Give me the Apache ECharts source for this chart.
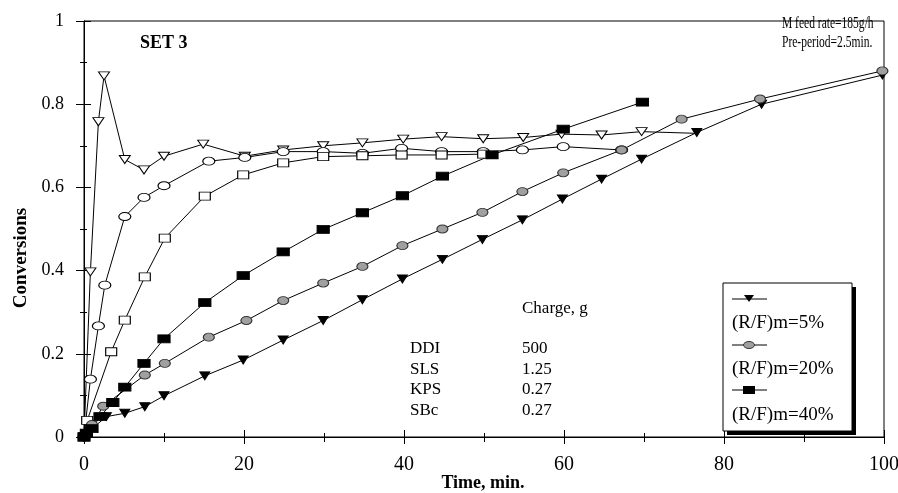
<!DOCTYPE html>
<html><head><meta charset="utf-8">
<script src="https://cdn.jsdelivr.net/npm/echarts@6/dist/echarts.min.js"></script>
<style>html,body{margin:0;padding:0;background:#fff}#c{width:898px;height:493px}</style>
</head><body><div id="c"></div>
<script>
// ---- data (time in min, conversion) ----
const openTriX = [0,0.8,1.8,2.5,5.1,7.5,10,14.9,20.1,24.9,29.9,34.8,39.9,44.7,49.9,54.9,59.7,64.7,69.7,76.5];
const openTriY = [0,0.397,0.758,0.868,0.667,0.642,0.675,0.704,0.675,0.69,0.70,0.707,0.716,0.722,0.717,0.72,0.728,0.726,0.734,0.73];
const openCircX = [0,0.8,1.8,2.6,5.1,7.5,10,15.6,20.1,24.9,29.9,34.8,39.7,44.7,49.9,54.8,59.9,67.2];
const openCircY = [0,0.139,0.267,0.365,0.53,0.576,0.604,0.663,0.672,0.686,0.686,0.682,0.694,0.686,0.686,0.69,0.698,0.69];
const openSqX = [0,0.4,3.4,5.1,7.6,10.1,15.1,19.9,24.9,29.9,34.8,39.7,44.7,49.9];
const openSqY = [0,0.04,0.205,0.281,0.385,0.478,0.579,0.63,0.659,0.674,0.676,0.678,0.678,0.68];
const rf5X = [0,1,2.8,5.1,7.6,10,15.1,19.9,24.9,29.9,34.8,39.8,44.8,49.8,54.8,59.8,64.7,69.7,76.6,84.7,99.8];
const rf5Y = [0,0.02,0.049,0.057,0.073,0.099,0.147,0.185,0.233,0.28,0.33,0.38,0.427,0.475,0.522,0.572,0.62,0.668,0.732,0.80,0.87];
const rf20X = [0,1,2.4,7.6,10.1,15.6,20.3,24.9,29.9,34.8,39.8,44.8,49.8,54.8,59.9,67.2,74.7,84.5,99.8];
const rf20Y = [0,0.03,0.074,0.149,0.177,0.24,0.28,0.328,0.37,0.41,0.46,0.50,0.54,0.59,0.635,0.69,0.764,0.8125,0.88];
const rf40X = [0,0.3,1,2,3.6,5.1,7.5,10,15.1,19.9,24.9,29.9,34.8,39.8,44.8,51,59.9,69.8];
const rf40Y = [0,0.009,0.02,0.049,0.083,0.12,0.177,0.236,0.323,0.388,0.445,0.499,0.539,0.58,0.627,0.678,0.74,0.805];
const legendNames = ['(R/F)m=5%','(R/F)m=20%','(R/F)m=40%'];
const chargeNames = ['DDI','SLS','KPS','SBc'];
const chargeValues = ['500','1.25','0.27','0.27'];

const zip = (xs, ys) => xs.map((x, i) => [x, ys[i]]);
const FONT = '"Liberation Serif","Times New Roman",serif';
const TRI = 'path://M0,0 L10,0 L5,8 Z';

function ser(name, xs, ys, symbol, size, fill, border) {
  return {
    name, type: 'line', data: zip(xs, ys), symbol, symbolSize: size,
    showSymbol: true, animation: false, z: 3,
    lineStyle: { color: '#000', width: 1 },
    itemStyle: { color: fill, borderColor: border, borderWidth: 1 }
  };
}
const s1 = ser('open tri', openTriX, openTriY, TRI, [11, 8], '#fff', '#000');
s1.data[s1.data.length - 1] = { value: s1.data[s1.data.length - 1], symbol: 'none' };

const series = [
  s1,
  ser('open circ', openCircX, openCircY, 'circle', [12, 8], '#fff', '#000'),
  ser('open sq', openSqX, openSqY, 'rect', [11, 8], '#fff', '#000'),
  ser(legendNames[0], rf5X, rf5Y, TRI, [10, 8], '#000', '#000'),
  ser(legendNames[1], rf20X, rf20Y, 'circle', [11, 8], '#a0a0a0', '#333'),
  ser(legendNames[2], rf40X, rf40Y, 'rect', [12, 8], '#000', '#000')
];

const axisCommon = {
  type: 'value', min: 0,
  axisLine: { lineStyle: { color: '#000', width: 1 } },
  splitLine: { show: false }
};
const chart = echarts.init(document.getElementById('c'), null, { renderer: 'canvas' });

const lx = 732, lw = 35;
const graphic = [
  { type: 'rect', shape: { x: 727, y: 287, width: 129, height: 148 }, style: { fill: '#000' }, z: 10 },
  { type: 'rect', shape: { x: 723, y: 283, width: 129, height: 148 }, style: { fill: '#fff', stroke: '#000', lineWidth: 1 }, z: 11 },
  { type: 'line', shape: { x1: lx, y1: 299, x2: lx + lw, y2: 299 }, style: { stroke: '#000', lineWidth: 1 }, z: 12 },
  { type: 'polygon', shape: { points: [[744, 295], [754, 295], [749, 302]] }, style: { fill: '#000' }, z: 12 },
  { type: 'line', shape: { x1: lx, y1: 345, x2: lx + lw, y2: 345 }, style: { stroke: '#000', lineWidth: 1 }, z: 12 },
  { type: 'ellipse', shape: { cx: 749, cy: 345, rx: 5.5, ry: 3.5 }, style: { fill: '#a0a0a0', stroke: '#333', lineWidth: 1 }, z: 12 },
  { type: 'line', shape: { x1: lx, y1: 390, x2: lx + lw, y2: 390 }, style: { stroke: '#000', lineWidth: 1 }, z: 12 },
  { type: 'rect', shape: { x: 743, y: 386, width: 12, height: 8 }, style: { fill: '#000' }, z: 12 }
];
[323, 369, 415].forEach((y, i) => graphic.push({
  type: 'text', x: lx, y: y, z: 12,
  style: { text: legendNames[i], font: '19px ' + FONT, fill: '#000', textVerticalAlign: 'middle' }
}));
graphic.push({ type: 'text', x: 140, y: 43, style: { text: 'SET 3', font: 'bold 18px ' + FONT, fill: '#000', textVerticalAlign: 'middle' } });
graphic.push({ type: 'group', x: 782, y: 24, scaleX: 0.72, children: [
  { type: 'text', x: 0, y: 0, style: { text: 'M feed rate=185g/h', font: '16px ' + FONT, fill: '#000', textVerticalAlign: 'middle' } }
] });
graphic.push({ type: 'group', x: 782, y: 43, scaleX: 0.72, children: [
  { type: 'text', x: 0, y: 0, style: { text: 'Pre-period=2.5min.', font: '16px ' + FONT, fill: '#000', textVerticalAlign: 'middle' } }
] });
graphic.push({ type: 'text', x: 21, y: 258, rotation: Math.PI / 2,
  style: { text: 'Conversions', font: 'bold 19px ' + FONT, fill: '#000', textAlign: 'center', textVerticalAlign: 'middle' } });
graphic.push({ type: 'text', x: 483, y: 483,
  style: { text: 'Time, min.', font: 'bold 18px ' + FONT, fill: '#000', textAlign: 'center', textVerticalAlign: 'middle' } });
graphic.push({ type: 'text', x: 522, y: 309, style: { text: 'Charge, g', font: '17px ' + FONT, fill: '#000', textVerticalAlign: 'middle' } });
chargeNames.forEach((n, i) => {
  const y = 349 + i * 20.5;
  graphic.push({ type: 'text', x: 410, y, style: { text: n, font: '17px ' + FONT, fill: '#000', textVerticalAlign: 'middle' } });
  graphic.push({ type: 'text', x: 522, y, style: { text: chargeValues[i], font: '17px ' + FONT, fill: '#000', textVerticalAlign: 'middle' } });
});

chart.setOption({
  animation: false,
  backgroundColor: '#fff',
  grid: { left: 84, right: 14, top: 21, bottom: 56, containLabel: false, outerBoundsMode: 'none',
    show: true, borderColor: '#000', borderWidth: 1, backgroundColor: 'transparent' },
  xAxis: [
    Object.assign({}, axisCommon, {
      max: 100, interval: 20,
      axisTick: { show: true, inside: false, length: 7, lineStyle: { color: '#000' } },
      minorTick: { show: true, splitNumber: 2, length: 5, lineStyle: { color: '#000' } },
      axisLabel: { fontFamily: FONT, fontSize: 20, color: '#000', margin: 18 }
    }),
    Object.assign({}, axisCommon, {
      max: 100, interval: 20, position: 'bottom',
      axisTick: { show: true, inside: true, length: 7, lineStyle: { color: '#000' } },
      minorTick: { show: true, splitNumber: 2, length: 4, lineStyle: { color: '#000' } },
      axisLabel: { show: false }
    })
  ],
  yAxis: [
    Object.assign({}, axisCommon, {
      max: 1, interval: 0.2,
      axisTick: { show: true, inside: false, length: 8, lineStyle: { color: '#000' } },
      minorTick: { show: true, splitNumber: 2, length: 4, lineStyle: { color: '#000' } },
      axisLabel: { fontFamily: FONT, fontSize: 18, color: '#000', margin: 20,
        formatter: v => String(Math.round(v * 10) / 10) }
    }),
    Object.assign({}, axisCommon, {
      max: 1, interval: 0.2, position: 'left',
      axisTick: { show: true, inside: true, length: 7, lineStyle: { color: '#000' } },
      minorTick: { show: true, splitNumber: 2, length: 3, lineStyle: { color: '#000' } },
      axisLabel: { show: false }
    })
  ],
  series,
  graphic
});
</script></body></html>
